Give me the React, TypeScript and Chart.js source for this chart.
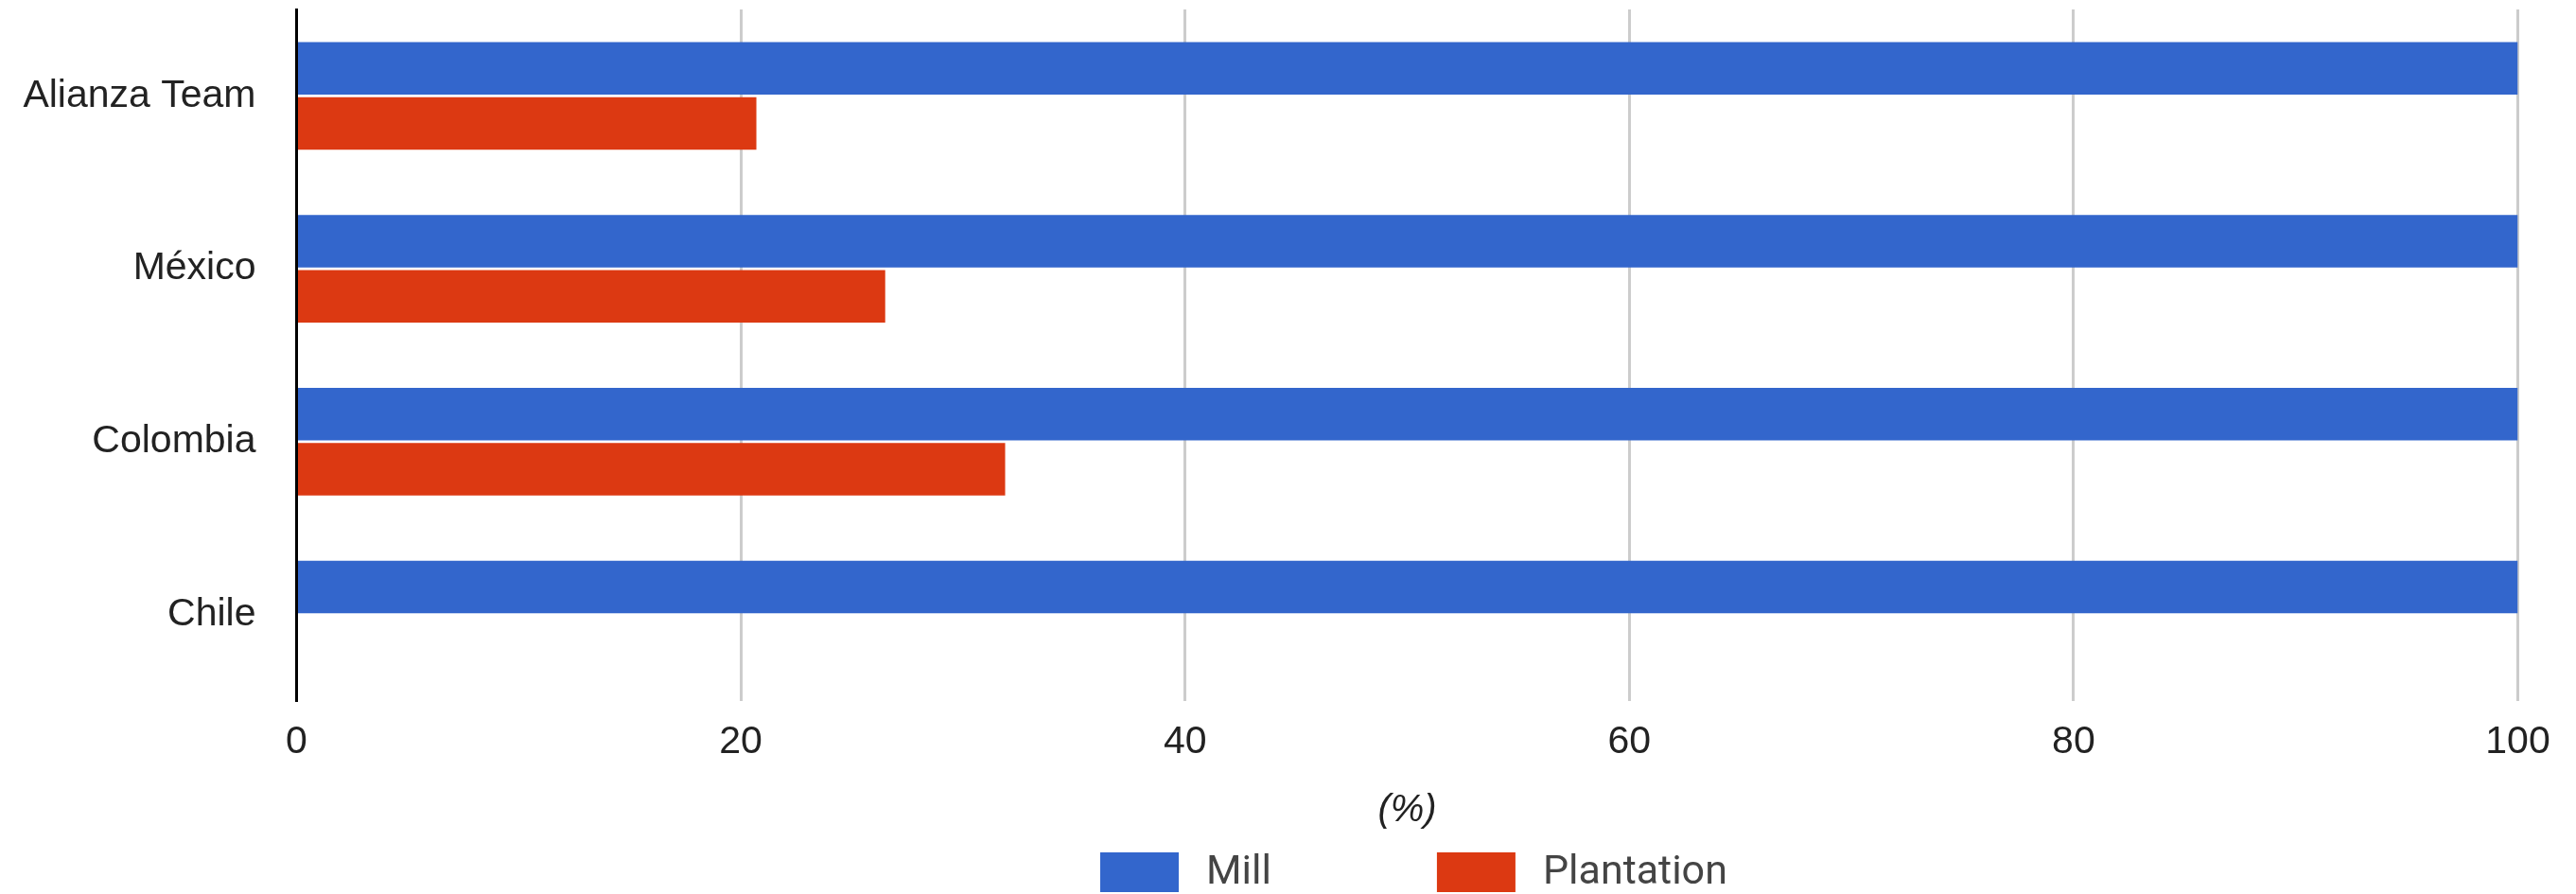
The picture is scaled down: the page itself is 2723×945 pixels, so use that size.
import React, { useEffect, useRef } from "react";
import { Chart, registerables } from "chart.js";

Chart.register(...registerables);

// Categories (top to bottom) and series values, in percent
const categories = ["Alianza Team", "México", "Colombia", "Chile"];
const millValues = [100, 100, 100, 100];
const plantationValues = [20.7, 26.5, 31.9, 0];
const xTickValues = [0, 20, 40, 60, 80, 100];
const seriesNames = ["Mill", "Plantation"];
const seriesColors = ["#3366cc", "#dc3912"];
const axisTitle = "(%)";

const WIDTH = 2723;
const HEIGHT = 945;

// Legend drawn centred under the plot: coloured box, label, next item
const bottomLegend = {
  id: "bottomLegend",
  afterDraw(chart: any) {
    const { ctx, chartArea } = chart;
    const boxW = 83;
    const boxH = 42;
    const textGap = 29;
    const itemGap = 175;
    ctx.save();
    ctx.font = "43px Roboto";
    ctx.textBaseline = "middle";
    ctx.textAlign = "left";
    const top = chart.height - 44;
    let x = (chartArea.left + chartArea.right) / 2 - 324.5;
    chart.data.datasets.forEach((ds: any) => {
      ctx.fillStyle = ds.backgroundColor;
      ctx.fillRect(x, top, boxW, boxH);
      x += boxW + textGap;
      ctx.fillStyle = "#444444";
      ctx.fillText(ds.label, x, top + boxH / 2 + 1);
      x += ctx.measureText(ds.label).width + itemGap;
    });
    ctx.restore();
  },
};

export default function App() {
  const canvasRef = useRef<HTMLCanvasElement | null>(null);

  useEffect(() => {
    const canvas = canvasRef.current;
    if (!canvas) return;
    Chart.defaults.font.family = "'Liberation Sans', Arial, sans-serif";

    const chart = new Chart(canvas, {
      type: "bar",
      data: {
        labels: categories,
        datasets: [
          {
            label: seriesNames[0],
            data: millValues,
            backgroundColor: seriesColors[0],
            borderWidth: 0,
            categoryPercentage: 0.64,
            barPercentage: 0.949,
          },
          {
            label: seriesNames[1],
            data: plantationValues,
            backgroundColor: seriesColors[1],
            borderWidth: 0,
            categoryPercentage: 0.64,
            barPercentage: 0.949,
          },
        ],
      },
      options: {
        indexAxis: "y",
        responsive: false,
        animation: false,
        devicePixelRatio: 1,
        layout: { padding: { top: 10, right: 61.5, bottom: 0, left: 0 } },
        plugins: {
          legend: { display: false },
          tooltip: { enabled: false },
        },
        scales: {
          x: {
            type: "linear",
            min: 0,
            max: 100,
            afterBuildTicks: (scale: any) => {
              scale.ticks = xTickValues.map((v) => ({ value: v }));
            },
            afterFit: (scale: any) => {
              scale.height = 204;
            },
            grid: {
              color: "#cccccc",
              lineWidth: 3,
              drawTicks: false,
            },
            border: { display: false },
            ticks: {
              padding: 19,
              color: "#222222",
              font: { size: 41 },
            },
            title: {
              display: true,
              text: axisTitle,
              color: "#222222",
              font: { size: 40, style: "italic" },
              padding: { top: 0, bottom: 64 },
            },
          },
          y: {
            z: 1,
            afterFit: (scale: any) => {
              scale.width = 313.5;
              // category labels sit mid-band, so no extra room is needed above or below
              scale.paddingTop = 0;
              scale.paddingBottom = 0;
            },
            grid: { display: false, drawTicks: false },
            border: { display: true, color: "#000000", width: 3 },
            ticks: {
              padding: 43,
              color: "#222222",
              font: { size: 41 },
            },
          },
        },
      },
      plugins: [bottomLegend],
    } as any);

    return () => {
      chart.destroy();
    };
  }, []);

  return (
    <div
      style={{
        position: "fixed",
        left: 0,
        top: 0,
        width: WIDTH,
        height: HEIGHT,
        background: "#ffffff",
      }}
    >
      <canvas ref={canvasRef} width={WIDTH} height={HEIGHT} />
    </div>
  );
}
